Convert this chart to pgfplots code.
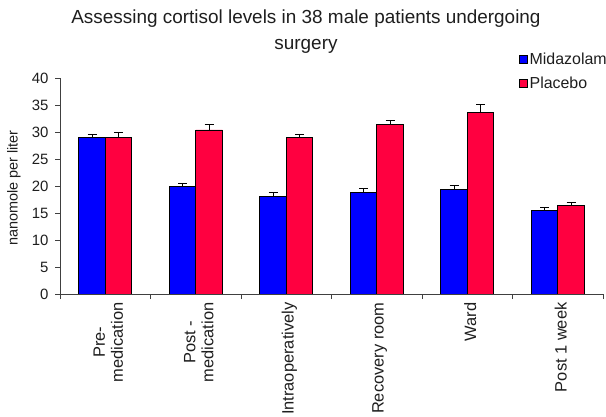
\documentclass[border=0pt]{standalone}
\usepackage{pgfplots}
\pgfplotsset{compat=1.18}
\usepackage{fontspec}
\setmainfont{Liberation Sans}
\definecolor{midblue}{RGB}{0,0,255}
\definecolor{plared}{RGB}{255,0,64}
\definecolor{txt}{RGB}{30,30,30}
\begin{document}
\begin{tikzpicture}
\useasboundingbox (0,0) rectangle (606bp,417bp);
\begin{axis}[
  at={(60bp,123bp)}, anchor=south west,
  scale only axis, width=543bp, height=216bp,
  xmin=-0.5, xmax=5.5, ymin=0, ymax=40,
  axis lines*=left,
  axis line style={draw=black!75, line width=0.9bp},
  ybar=0pt, bar width=26.5bp,
  xtick={0,1,2,3,4,5},
  xticklabels={{Pre-\\medication},{Post -\\medication},Intraoperatively,Recovery room,Ward,Post 1 week},
  major x tick style={draw=none},
  minor xtick={-0.5,0.5,1.5,2.5,3.5,4.5,5.5},
  minor x tick style={draw=black!75, line width=0.9bp},
  minor tick length=5bp,
  ytick={0,5,...,40},
  major tick length=5bp,
  ytick style={draw=black!75, line width=0.9bp},
  tick align=outside,
  /pgf/number format/assume math mode=true,
  tick label style={font=\fontsize{15}{17}\selectfont, text=txt},
  xticklabel style={rotate=90, anchor=east, align=center, font=\fontsize{16.5}{18}\selectfont, yshift=-3bp},
  yticklabel style={xshift=-3bp},
  ylabel={nanomole per liter},
  ylabel style={at={(axis description cs:-0.085,0.49)}, anchor=center, rotate=0, font=\fontsize{14.5}{16}\selectfont, text=txt},
  title={Assessing cortisol levels in 38 male patients undergoing\\surgery},
  title style={at={(axis description cs:0.453,1.305)}, anchor=north, align=center, font=\fontsize{19}{26}\selectfont, text=txt},
  legend style={at={(axis description cs:0.845,1.125)}, anchor=north west, draw=none, fill=none, font=\fontsize{16}{18}\selectfont, text=txt, row sep=7bp, inner sep=0pt},
  legend cell align=left,
  legend image code/.code={\draw[#1, draw=black, line width=0.6bp] (0bp,-4bp) rectangle (8bp,4bp);},
  error bars/y dir=plus, error bars/y explicit,
  error bars/error mark options={rotate=90, mark size=4.5bp, line width=1bp, draw=black},
  error bars/error bar style={line width=1bp, draw=black},
]
\addplot[fill=midblue, draw=black, line width=0.6bp] coordinates {
  (0,29.0) +- (0,0.6)
  (1,19.9) +- (0,0.6)
  (2,18.0) +- (0,0.8)
  (3,18.8) +- (0,0.7)
  (4,19.3) +- (0,0.7)
  (5,15.5) +- (0,0.6)
};
\addplot[fill=plared, draw=black, line width=0.6bp] coordinates {
  (0,29.0) +- (0,0.9)
  (1,30.4) +- (0,1.0)
  (2,29.0) +- (0,0.6)
  (3,31.4) +- (0,0.8)
  (4,33.6) +- (0,1.4)
  (5,16.4) +- (0,0.6)
};
\legend{Midazolam,Placebo}
\end{axis}
\end{tikzpicture}
\end{document}
